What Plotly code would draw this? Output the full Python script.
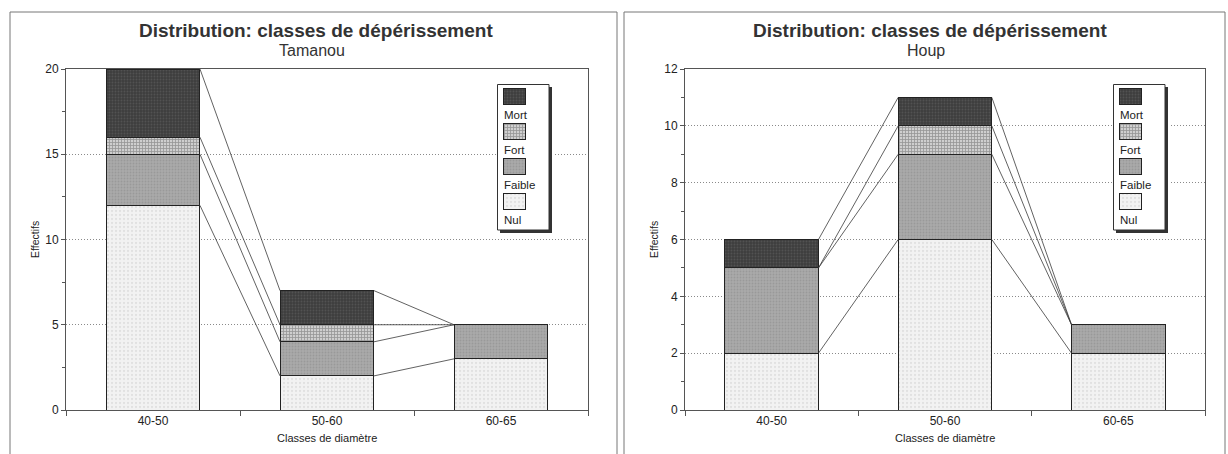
import plotly.graph_objects as go

# ---------------- data ----------------
categories = ["40-50", "50-60", "60-65"]
series_names = ["Nul", "Faible", "Fort", "Mort"]

tamanou_nul = [12, 2, 3]
tamanou_faible = [3, 2, 2]
tamanou_fort = [1, 1, 0]
tamanou_mort = [4, 2, 0]

houp_nul = [2, 6, 2]
houp_faible = [3, 3, 1]
houp_fort = [0, 1, 0]
houp_mort = [1, 1, 0]

main_title = "Distribution: classes de dépérissement"
subtitles = ["Tamanou", "Houp"]
x_title = "Classes de diamètre"
y_title = "Effectifs"

# ---------------- layout helpers ----------------
W, H = 1228, 454
FONT = "Liberation Sans, Arial, sans-serif"


def fx(p):
    return p / W


def fy(p):
    return 1 - p / H


styles = {
    "Nul": dict(color="#f2f2f2", pattern=dict(shape=".", fgcolor="#cfcfcf", size=4, solidity=0.25)),
    "Faible": dict(color="#a9a9a9", pattern=dict(shape=".", fgcolor="#8a8a8a", size=3, solidity=0.3)),
    "Fort": dict(color="#cfcfcf", pattern=dict(shape="+", fgcolor="#5a5a5a", size=3, solidity=0.45)),
    "Mort": dict(color="#3e3e3e", pattern=dict(shape=".", fgcolor="#666666", size=3, solidity=0.3)),
}

panels = [
    dict(data=[tamanou_nul, tamanou_faible, tamanou_fort, tamanou_mort], sub=subtitles[0],
         xa="x", ya="y", lx="x3", ly="y3",
         xdom=(66, 588), ymax=20, dtick=5, minor=2.5,
         leg=(497, 84), panel=(10, 617), center=316),
    dict(data=[houp_nul, houp_faible, houp_fort, houp_mort], sub=subtitles[1],
         xa="x2", ya="y2", lx="x4", ly="y4",
         xdom=(685, 1205), ymax=12, dtick=2, minor=1,
         leg=(1113, 84), panel=(624, 1225), center=930),
]

BAR_W = 0.54
Y_TOP, Y_BOT = 69, 410
LEG_W, LEG_H = 52, 146
PAD = 5  # room for the legend drop shadow

fig = go.Figure()
shapes = []
annotations = []
layout_axes = {}

for pi, p in enumerate(panels):
    xs = list(range(len(categories)))
    # stacked bars
    for name, vals in zip(series_names, p["data"]):
        st = styles[name]
        fig.add_trace(go.Bar(
            x=xs, y=vals, width=BAR_W, name=name, showlegend=False,
            marker=dict(color=st["color"], pattern=st["pattern"],
                        line=dict(color="#222222", width=1)),
            xaxis=p["xa"], yaxis=p["ya"], hoverinfo="skip"))
    # series lines (connect cumulative tops of adjacent bars)
    cum = []
    run = [0] * len(categories)
    for vals in p["data"]:
        run = [a + b for a, b in zip(run, vals)]
        cum.append(run)
    lx, ly = [], []
    for i in range(len(categories) - 1):
        for level in cum:
            lx += [i + BAR_W / 2, i + 1 - BAR_W / 2, None]
            ly += [level[i], level[i + 1], None]
    fig.add_trace(go.Scatter(x=lx, y=ly, mode="lines", showlegend=False,
                             line=dict(color="#3a3a3a", width=0.8),
                             xaxis=p["xa"], yaxis=p["ya"], hoverinfo="skip"))

    # legend swatches (horizontal bars in an overlay axis)
    for k, name in enumerate(reversed(series_names)):
        st = styles[name]
        fig.add_trace(go.Bar(
            orientation="h", y=[12 + 35 * k], x=[22], base=[6], width=16,
            showlegend=False, hoverinfo="skip",
            marker=dict(color=st["color"], pattern=st["pattern"],
                        line=dict(color="#222222", width=1)),
            xaxis=p["lx"], yaxis=p["ly"]))
        annotations.append(dict(text=name, x=5, y=31 + 35 * k, xref=p["lx"], yref=p["ly"],
                                xanchor="left", yanchor="middle", showarrow=False,
                                font=dict(family=FONT, size=11.5, color="#222")))

    ax_suffix = p["xa"][1:]
    ay_suffix = p["ya"][1:]
    layout_axes["xaxis" + ax_suffix] = dict(
        domain=[fx(p["xdom"][0]), fx(p["xdom"][1])], anchor=p["ya"],
        range=[-0.5, len(categories) - 0.5], tickmode="array", tickvals=xs, ticktext=categories,
        ticks="", showgrid=False, zeroline=False, showline=True, linecolor="#555", linewidth=1,
        mirror=True, tickfont=dict(family=FONT, size=12, color="#222"), automargin=False,
        minor=dict(tickmode="linear", tick0=0.5, dtick=1, ticks="outside", ticklen=5,
                   tickcolor="#555", showgrid=False))
    layout_axes["yaxis" + ay_suffix] = dict(
        domain=[fy(Y_BOT), fy(Y_TOP)], anchor=p["xa"],
        range=[0, p["ymax"]], dtick=p["dtick"], ticks="outside", ticklen=4, tickcolor="#555",
        showgrid=True, gridcolor="#8a8a8a", griddash="1px,2px", gridwidth=1,
        zeroline=False, showline=True, linecolor="#555", linewidth=1, mirror=True,
        tickfont=dict(family=FONT, size=12, color="#222"), automargin=False,
        minor=dict(dtick=p["minor"], ticks="outside", ticklen=3, tickcolor="#555", showgrid=False))

    lxs = p["lx"][1:]
    lys = p["ly"][1:]
    L0x, L0y = p["leg"]
    layout_axes["xaxis" + lxs] = dict(domain=[fx(L0x), fx(L0x + LEG_W + PAD)], anchor=p["ly"],
                                      range=[0, LEG_W + PAD], visible=False, fixedrange=True)
    layout_axes["yaxis" + lys] = dict(domain=[fy(L0y + LEG_H + PAD), fy(L0y)], anchor=p["lx"],
                                      range=[LEG_H + PAD, 0], visible=False, fixedrange=True)
    # legend shadow + box
    shapes.append(dict(type="rect", xref=p["lx"], yref=p["ly"], x0=3, x1=LEG_W + 3, y0=3, y1=LEG_H + 3,
                       fillcolor="#333333", line=dict(width=0), layer="between"))
    shapes.append(dict(type="rect", xref=p["lx"], yref=p["ly"], x0=0.5, x1=LEG_W, y0=0.5, y1=LEG_H,
                       fillcolor="white", line=dict(color="#333", width=1), layer="between"))

    # panel border
    shapes.append(dict(type="rect", xref="paper", yref="paper",
                       x0=fx(p["panel"][0]), x1=fx(p["panel"][1]), y0=-0.05, y1=fy(12),
                       line=dict(color="#777", width=1), fillcolor="rgba(0,0,0,0)", layer="below"))

    # titles
    annotations.append(dict(text="<b>" + main_title + "</b>", x=fx(p["center"]), y=fy(31),
                            xref="paper", yref="paper", xanchor="center", yanchor="middle",
                            showarrow=False, font=dict(family=FONT, size=19, color="#333")))
    annotations.append(dict(text=p["sub"], x=fx(p["center"] - 4), y=fy(51),
                            xref="paper", yref="paper", xanchor="center", yanchor="middle",
                            showarrow=False, font=dict(family=FONT, size=16, color="#333")))
    # axis titles
    xmid = (p["xdom"][0] + p["xdom"][1]) / 2
    annotations.append(dict(text=x_title, x=fx(xmid), y=fy(438), xref="paper", yref="paper",
                            xanchor="center", yanchor="middle", showarrow=False,
                            font=dict(family=FONT, size=11, color="#222")))
    annotations.append(dict(text=y_title, x=fx(p["xdom"][0] - 31), y=fy(240), xref="paper", yref="paper",
                            xanchor="center", yanchor="middle", showarrow=False, textangle=-90,
                            font=dict(family=FONT, size=10.5, color="#222")))

fig.update_layout(
    width=W, height=H, autosize=False,
    margin=dict(l=0, r=0, t=0, b=0, autoexpand=False),
    paper_bgcolor="white", plot_bgcolor="white",
    barmode="stack", bargap=0,
    shapes=shapes, annotations=annotations,
    font=dict(family=FONT, color="#222"),
    **layout_axes,
)

fig.write_html(
    "out.html",
    config={"displayModeBar": False, "staticPlot": True},
    post_script="document.body.style.margin='0px';document.body.style.padding='0px';"
                "document.documentElement.style.overflow='hidden';",
)
